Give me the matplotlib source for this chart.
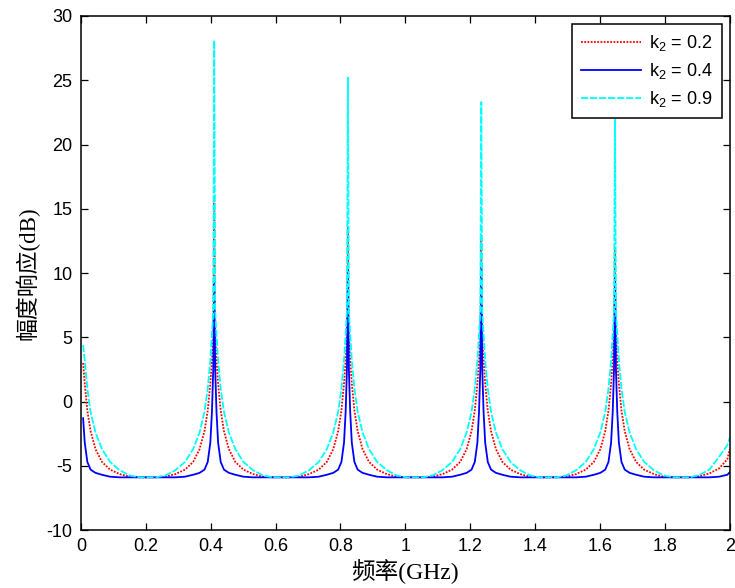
import matplotlib
matplotlib.use("Agg")
import matplotlib.pyplot as plt
from matplotlib.ticker import FixedLocator, FuncFormatter

# frequency samples (GHz)
freq = [
    0.007, 0.012, 0.020, 0.030, 0.045, 0.065, 0.090, 0.120, 0.150, 0.180, 0.206,
    0.231, 0.261, 0.291, 0.321, 0.346, 0.366, 0.381, 0.391, 0.399, 0.404, 0.408,
    0.411,
    0.414, 0.418, 0.423, 0.431, 0.441, 0.456, 0.476, 0.501, 0.531, 0.561, 0.591, 0.617,
    0.643, 0.673, 0.703, 0.733, 0.758, 0.778, 0.793, 0.803, 0.811, 0.816, 0.820,
    0.823,
    0.826, 0.830, 0.835, 0.843, 0.853, 0.868, 0.888, 0.913, 0.943, 0.973, 1.003, 1.028,
    1.054, 1.084, 1.114, 1.144, 1.169, 1.189, 1.204, 1.214, 1.222, 1.227, 1.231,
    1.234,
    1.237, 1.241, 1.246, 1.254, 1.264, 1.279, 1.299, 1.324, 1.354, 1.384, 1.414, 1.440,
    1.466, 1.496, 1.526, 1.556, 1.581, 1.601, 1.616, 1.626, 1.634, 1.639, 1.643,
    1.646,
    1.649, 1.653, 1.658, 1.666, 1.676, 1.691, 1.711, 1.736, 1.766, 1.796, 1.826, 1.851,
    1.877, 1.907, 1.937, 1.967, 1.992, 2.000,
]

# k2 = 0.2 (red, dotted)
resp_k02 = [
    3.0, 1.4, -0.7, -2.3, -3.7, -4.7, -5.3, -5.65, -5.85, -5.9, -5.9,
    -5.9, -5.85, -5.65, -5.3, -4.7, -3.7, -2.3, -0.7, 1.4, 3.2, 5.0,
    16.0,
    5.0, 3.2, 1.4, -0.7, -2.3, -3.7, -4.7, -5.3, -5.65, -5.85, -5.9, -5.9,
    -5.9, -5.85, -5.65, -5.3, -4.7, -3.7, -2.3, -0.7, 1.4, 3.2, 5.0,
    13.5,
    5.0, 3.2, 1.4, -0.7, -2.3, -3.7, -4.7, -5.3, -5.65, -5.85, -5.9, -5.9,
    -5.9, -5.85, -5.65, -5.3, -4.7, -3.7, -2.3, -0.7, 1.4, 3.2, 5.0,
    12.5,
    5.0, 3.2, 1.4, -0.7, -2.3, -3.7, -4.7, -5.3, -5.65, -5.85, -5.9, -5.9,
    -5.9, -5.85, -5.65, -5.3, -4.7, -3.7, -2.3, -0.7, 1.4, 3.2, 5.0,
    12.0,
    5.0, 3.2, 1.4, -0.7, -2.3, -3.7, -4.7, -5.3, -5.65, -5.85, -5.9, -5.9,
    -5.9, -5.8, -5.6, -5.2, -4.5, -3.7,
]

# k2 = 0.4 (blue, solid)
resp_k04 = [
    -1.3, -3.2, -4.7, -5.3, -5.55, -5.7, -5.85, -5.9, -5.9, -5.9, -5.9,
    -5.9, -5.9, -5.9, -5.85, -5.7, -5.55, -5.3, -4.7, -3.2, -0.8, 2.5,
    9.3,
    2.5, -0.8, -3.2, -4.7, -5.3, -5.55, -5.7, -5.85, -5.9, -5.9, -5.9, -5.9,
    -5.9, -5.9, -5.9, -5.85, -5.7, -5.55, -5.3, -4.7, -3.2, -0.8, 2.5,
    10.4,
    2.5, -0.8, -3.2, -4.7, -5.3, -5.55, -5.7, -5.85, -5.9, -5.9, -5.9, -5.9,
    -5.9, -5.9, -5.9, -5.85, -5.7, -5.55, -5.3, -4.7, -3.2, -0.8, 2.5,
    10.4,
    2.5, -0.8, -3.2, -4.7, -5.3, -5.55, -5.7, -5.85, -5.9, -5.9, -5.9, -5.9,
    -5.9, -5.9, -5.9, -5.85, -5.7, -5.55, -5.3, -4.7, -3.2, -0.8, 2.5,
    9.8,
    2.5, -0.8, -3.2, -4.7, -5.3, -5.55, -5.7, -5.85, -5.9, -5.9, -5.9, -5.9,
    -5.9, -5.9, -5.9, -5.85, -5.7, -5.5,
]

# k2 = 0.9 (cyan, dashed)
resp_k09 = [
    4.4, 3.2, 1.0, -0.8, -2.4, -3.7, -4.7, -5.35, -5.75, -5.9, -5.9,
    -5.9, -5.75, -5.35, -4.7, -3.7, -2.4, -0.8, 1.0, 3.2, 5.2, 7.0,
    28.1,
    7.0, 5.2, 3.2, 1.0, -0.8, -2.4, -3.7, -4.7, -5.35, -5.75, -5.9, -5.9,
    -5.9, -5.75, -5.35, -4.7, -3.7, -2.4, -0.8, 1.0, 3.2, 5.2, 7.0,
    25.2,
    7.0, 5.2, 3.2, 1.0, -0.8, -2.4, -3.7, -4.7, -5.35, -5.75, -5.9, -5.9,
    -5.9, -5.75, -5.35, -4.7, -3.7, -2.4, -0.8, 1.0, 3.2, 5.2, 7.0,
    23.3,
    7.0, 5.2, 3.2, 1.0, -0.8, -2.4, -3.7, -4.7, -5.35, -5.75, -5.9, -5.9,
    -5.9, -5.75, -5.35, -4.7, -3.7, -2.4, -0.8, 1.0, 3.2, 5.2, 7.0,
    22.1,
    7.0, 5.2, 3.2, 1.0, -0.8, -2.4, -3.7, -4.7, -5.35, -5.75, -5.9, -5.9,
    -5.9, -5.7, -5.3, -4.3, -3.4, -2.8,
]

series_labels = [r"k$_2$ = 0.2", r"k$_2$ = 0.4", r"k$_2$ = 0.9"]
x_ticks = [0, 0.2, 0.4, 0.6, 0.8, 1.0, 1.2, 1.4, 1.6, 1.8, 2.0]
y_ticks = [-10, -5, 0, 5, 10, 15, 20, 25, 30]
x_label = "频率(GHz)"
y_label = "幅度响应(dB)"

plt.rcParams["font.family"] = ["Liberation Sans", "DejaVu Sans"]
plt.rcParams["mathtext.fontset"] = "custom"
plt.rcParams["mathtext.rm"] = "Liberation Sans"
plt.rcParams["mathtext.it"] = "Liberation Sans"

fig = plt.figure(figsize=(7.35, 5.88), dpi=100)
ax = fig.add_axes([0.110, 0.0986, 0.883, 0.8742])

ax.plot(freq, resp_k02, color="#ff0000", lw=1.3, linestyle=(0, (1, 0.8)), label=series_labels[0])
ax.plot(freq, resp_k04, color="#0000ff", lw=1.3, linestyle="-", label=series_labels[1])
ax.plot(freq, resp_k09, color="#00ffff", lw=1.3, linestyle=(0, (4, 1)), label=series_labels[2])

ax.set_xlim(0, 2)
ax.set_ylim(-10, 30)
ax.xaxis.set_major_locator(FixedLocator(x_ticks))
ax.yaxis.set_major_locator(FixedLocator(y_ticks))
ax.xaxis.set_major_formatter(FuncFormatter(lambda v, p: ("%g" % v)))
ax.yaxis.set_major_formatter(FuncFormatter(lambda v, p: ("%g" % v)))
ax.tick_params(direction="in", top=True, right=True, length=5, width=0.9,
               labelsize=13, pad=6)
for s in ax.spines.values():
    s.set_linewidth(1.1)

lab_font = ["Liberation Serif", "Noto Sans CJK SC"]
ax.set_xlabel(x_label, family=lab_font, fontsize=17, labelpad=3)
ax.set_ylabel(y_label, family=lab_font, fontsize=16.5, labelpad=5)

leg = ax.legend(loc="upper right", fontsize=13, handlelength=3.3, handletextpad=0.45,
                labelspacing=0.45, borderaxespad=0.45, borderpad=0.5,
                fancybox=False, framealpha=1, edgecolor="black")
leg.get_frame().set_linewidth(1.1)

fig.savefig("out.png", dpi=100)
